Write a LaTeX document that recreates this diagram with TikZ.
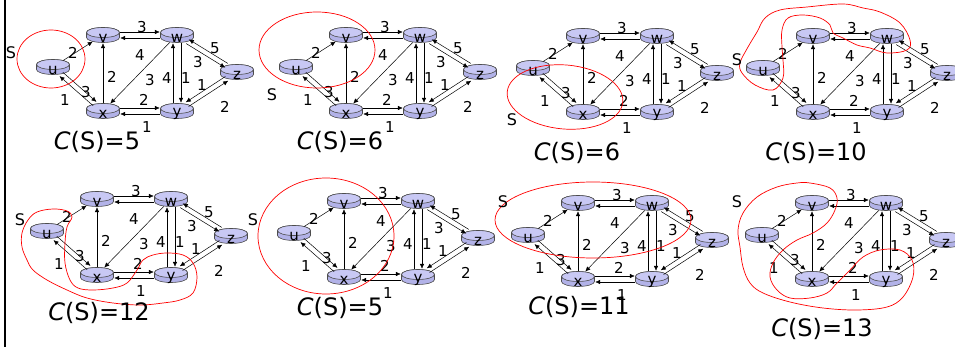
\documentclass[tikz,border=0pt]{standalone}
\usepackage{fontspec}
\setmainfont{DejaVu Sans}
\usetikzlibrary{arrows.meta,shapes.geometric}

\definecolor{routerbody}{RGB}{178,178,232}
\definecolor{routertop}{RGB}{200,200,244}

\tikzset{
  wt/.style={font=\fontsize{15}{15}\selectfont, inner sep=0pt},
  router/.style={ellipse, minimum width=34pt, minimum height=16pt, inner sep=0pt,
    label={[wt, yshift=-3pt]center:#1}},
  link/.style={->, line width=0.5pt},
  cut/.style={red, line width=0.7pt},
  cs/.style={font=\fontsize{24}{24}\selectfont, inner sep=0pt},
  setname/.style={font=\fontsize{16}{16}\selectfont, inner sep=0pt},
}

% a flat disk (router icon) and the node that the links attach to
\newcommand\router[3]{%
  \begin{scope}[shift={#2}]
    \filldraw[fill=routerbody, draw=black!70, line width=0.6pt] (-16.5,-2.5)
      arc[start angle=180, end angle=0, x radius=16.5pt, y radius=5pt] -- (16.5,2.5)
      arc[start angle=0, end angle=-180, x radius=16.5pt, y radius=5pt] -- cycle;
    \filldraw[fill=routertop, draw=black!70, line width=0.6pt] (0,-2.5)
      ellipse[x radius=16.5pt, y radius=5pt];
  \end{scope}
  \node[router=#3] (#1) at #2 {};
}

\begin{document}
\begin{tikzpicture}[x=1pt, y=-1pt, >={Latex[length=5pt,width=4.5pt]}]
\useasboundingbox (0,0) rectangle (955,347);
\draw[line width=1.6pt] (5,0) -- (5,347);

% the same network, eight times
\foreach \p/\dx/\dy in {a/0/0, b/243/0, c/480/1, d/710/1, e/-6/164, f/241/166, g/475/168, h/709/168} {
  \begin{scope}[shift={(\dx,\dy)}]
    \router{\p u}{(53,67)}{u}
    \router{\p v}{(103,35)}{v}
    \router{\p w}{(177,35)}{w}
    \router{\p z}{(237,72)}{z}
    \router{\p x}{(103,111)}{x}
    \router{\p y}{(177,111)}{y}

    \draw[link] (\p u) -- (\p v);
    \draw[link, transform canvas={yshift=3pt}] (\p v) -- (\p w);
    \draw[link, transform canvas={yshift=-3pt}] (\p w) -- (\p v);
    \draw[link] (\p x) -- (\p v);
    \draw[link] (\p w) -- (\p x);
    \draw[link, transform canvas={shift={(1.7pt,1.9pt)}}] (\p u) -- (\p x);
    \draw[link, transform canvas={shift={(-1.7pt,-1.9pt)}}] (\p x) -- (\p u);
    \draw[link, transform canvas={yshift=3pt}] (\p x) -- (\p y);
    \draw[link, transform canvas={yshift=-3pt}] (\p y) -- (\p x);
    \draw[link, transform canvas={xshift=-4pt}] (\p y) -- (\p w);
    \draw[link, transform canvas={xshift=4pt}] (\p w) -- (\p y);
    \draw[link, transform canvas={shift={(1.3pt,2.1pt)}}] (\p z) -- (\p w);
    \draw[link, transform canvas={shift={(-1.3pt,-2.1pt)}}] (\p w) -- (\p z);
    \draw[link, transform canvas={shift={(-1.4pt,2.1pt)}}] (\p z) -- (\p y);
    \draw[link, transform canvas={shift={(1.4pt,-2.1pt)}}] (\p y) -- (\p z);

    \node[wt] (\p uv) at (73,53) {2};
    \node[wt] (\p vw) at (142,27) {3};
    \node[wt] (\p wv) at (140,55) {4};
    \node[wt] (\p xv) at (112,77) {2};
    \node[wt] (\p wx) at (150,80) {3};
    \node[wt] (\p ux) at (86,92) {3};
    \node[wt] (\p xu) at (65,100) {1};
    \node[wt] (\p xy) at (144,100) {2};
    \node[wt] (\p yx) at (147,127) {1};
    \node[wt] (\p yw) at (167,78) {4};
    \node[wt] (\p wy) at (186,78) {1};
    \node[wt] (\p zw) at (215,48) {5};
    \node[wt] (\p wz) at (198,62) {3};
    \node[wt] (\p zy) at (202,85) {1};
    \node[wt] (\p yz) at (225,107) {2};
  \end{scope}
}

% the cuts
\draw[cut] (51,59) ellipse [x radius=34pt, y radius=29pt];
\draw[cut] (317,50) ellipse [x radius=58pt, y radius=38pt];
\draw[cut, rotate around={-5:(565,97)}] (565,97) ellipse [x radius=58pt, y radius=32pt];
\draw[cut] plot[smooth cycle, tension=0.6] coordinates {
  (783,78) (773,90) (755,85) (742,73) (740,63) (748,47) (757,32) (765,18) (780,10) (807,7)
  (843,4) (863,8) (880,12) (900,23) (910,40) (907,50) (887,53) (870,48) (857,45) (843,38)
  (833,33) (830,25) (820,18) (803,15) (788,18) (782,30) (782,47) (783,60)};
\draw[cut] plot[smooth cycle, tension=0.6] coordinates {
  (28,220) (37,212) (53,209) (67,211) (72,217) (67,227) (65,243) (65,263) (70,280) (78,288)
  (93,290) (113,288) (127,283) (137,270) (143,260) (153,255) (167,253) (183,255) (193,263)
  (197,277) (193,293) (180,300) (163,303) (140,305) (113,303) (87,298) (67,290) (47,280)
  (33,270) (27,260) (22,247) (22,233)};
\draw[cut] (326,236) ellipse [x radius=68pt, y radius=58pt];
\draw[cut] (593,220) ellipse [x radius=98pt, y radius=38pt];
\draw[cut] plot[smooth cycle, tension=0.6] coordinates {
  (810,183) (830,188) (837,198) (835,210) (827,223) (813,233) (797,240) (783,250) (773,263)
  (770,277) (777,290) (790,298) (810,298) (827,293) (837,283) (850,270) (863,257) (880,250)
  (900,250) (912,260) (913,277) (903,297) (887,307) (857,310) (823,308) (790,302) (763,293)
  (750,283) (743,267) (740,247) (738,230) (743,213) (757,197) (777,187) (797,183)};

% set names
\node[setname] (s1) at (11,53) {S};
\node[setname] (s2) at (272,95) {S};
\node[setname] (s3) at (512,120) {S};
\node[setname] (s4) at (737,60) {S};
\node[setname] (s5) at (20,220) {S};
\node[setname] (s6) at (253,220) {S};
\node[setname] (s7) at (503,202) {S};
\node[setname] (s8) at (737,202) {S};

% cut capacities
\node[cs] (c1) at (97,142) {\textit{C}(S)=5};
\node[cs] (c2) at (340,142) {\textit{C}(S)=6};
\node[cs] (c3) at (577,153) {\textit{C}(S)=6};
\node[cs] (c4) at (816,153) {\textit{C}(S)=10};
\node[cs] (c5) at (99,313) {\textit{C}(S)=12};
\node[cs] (c6) at (340,308) {\textit{C}(S)=5};
\node[cs] (c7) at (579,307) {\textit{C}(S)=11};
\node[cs] (c8) at (822,329) {\textit{C}(S)=13};
\end{tikzpicture}
\end{document}
